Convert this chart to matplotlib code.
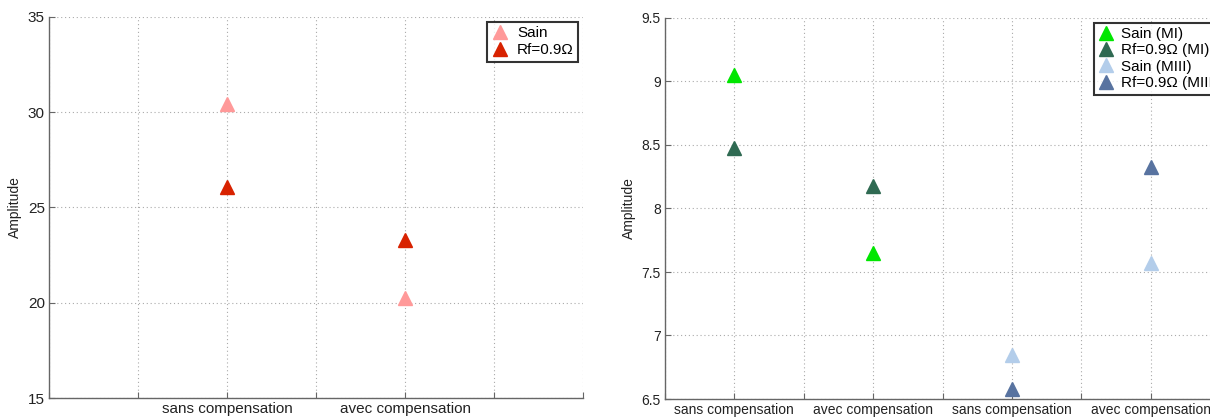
import numpy as np
import matplotlib
matplotlib.use('Agg')
import matplotlib.pyplot as plt

plt.rcParams['font.family'] = ['Liberation Sans', 'DejaVu Sans']

# left chart (one machine)
x_left = [1, 2]
labels_left = ['sans compensation', 'avec compensation']
sain_left = [30.45, 20.25]
rf_left = [26.1, 23.3]

# right chart (MI then MIII)
x_mi = [1, 2]
x_miii = [3, 4]
labels_right = ['sans compensation', 'avec compensation',
                'sans compensation', 'avec compensation']
sain_mi = [9.05, 7.65]
rf_mi = [8.48, 8.18]
sain_miii = [6.85, 7.57]
rf_miii = [6.58, 8.33]

fig = plt.figure(figsize=(12.10, 4.19), dpi=100)
fig.patch.set_facecolor('white')

ax1 = fig.add_axes([49/1210, 21/419, (583-49)/1210, (398-17)/419])
ax2 = fig.add_axes([665/1210, 20/419, (1220-665)/1210, (399-18)/419])


def style_axes(ax, xlim, ylim, yticks, xtick_pos, xtick_lab, fs):
    ax.set_xlim(xlim)
    ax.set_ylim(ylim)
    ax.set_yticks(yticks)
    ax.set_xticks(xtick_pos)
    ax.set_xticklabels(xtick_lab)
    for s in ['top', 'right']:
        ax.spines[s].set_visible(False)
    for s in ['left', 'bottom']:
        ax.spines[s].set_color('#666666')
        ax.spines[s].set_linewidth(1.0)
    ax.tick_params(direction='in', length=4, width=0.8, color='#666666',
                   labelsize=fs, labelcolor='#222222', pad=3)
    ax.grid(True, linestyle=(0, (1, 2.5)), color='#aaaaaa', linewidth=0.8)
    ax.set_axisbelow(True)
    ax.set_ylabel('Amplitude', fontsize=10, color='#222222', labelpad=4)


pos_left = np.arange(0, 3.01, 0.5)
lab_left = ['' if p not in x_left else labels_left[x_left.index(p)] for p in pos_left]
style_axes(ax1, (0, 3), (15, 35), [15, 20, 25, 30, 35], pos_left, lab_left, 11)

ax1.plot(x_left, sain_left, '^', color='#FF9999', markersize=10,
         markeredgecolor='#FF9999', label='Sain')
ax1.plot(x_left, rf_left, '^', color='#D82200', markersize=10,
         markeredgecolor='#D82200', label='Rf=0.9Ω')
leg1 = ax1.legend(loc='upper right', numpoints=1, fontsize=11, fancybox=False,
                  edgecolor='black', borderaxespad=0.3, handlelength=1.2,
                  handletextpad=0.5, borderpad=0.3, labelspacing=0.2)
leg1.get_frame().set_linewidth(1.5)

pos_right = np.arange(0.5, 4.51, 0.5)
all_x = x_mi + x_miii
lab_right = ['' if p not in all_x else labels_right[all_x.index(p)] for p in pos_right]
style_axes(ax2, (0.5, 4.5), (6.5, 9.5), [6.5, 7, 7.5, 8, 8.5, 9, 9.5],
           pos_right, lab_right, 10)
ax2.set_yticklabels(['6.5', '7', '7.5', '8', '8.5', '9', '9.5'])

ax2.plot(x_mi, sain_mi, '^', color='#00E600', markeredgecolor='#00E600',
         markersize=10, label='Sain (MI)')
ax2.plot(x_mi, rf_mi, '^', color='#2F6A52', markeredgecolor='#2F6A52',
         markersize=10, label='Rf=0.9Ω (MI)')
ax2.plot(x_miii, sain_miii, '^', color='#B3CDEA', markeredgecolor='#B3CDEA',
         markersize=10, label='Sain (MIII)')
ax2.plot(x_miii, rf_miii, '^', color='#5873A0', markeredgecolor='#5873A0',
         markersize=10, label='Rf=0.9Ω (MIII)')
# legend runs off the right edge like in the original figure
leg2 = ax2.legend(loc='upper right', bbox_to_anchor=(1.013, 1.0), numpoints=1,
                  fontsize=11, fancybox=False, edgecolor='black',
                  borderaxespad=0.3, handlelength=1.0, handletextpad=0.5,
                  borderpad=0.3, labelspacing=0.15)
leg2.get_frame().set_linewidth(1.5)

plt.savefig('out.png', dpi=100, facecolor='white')
